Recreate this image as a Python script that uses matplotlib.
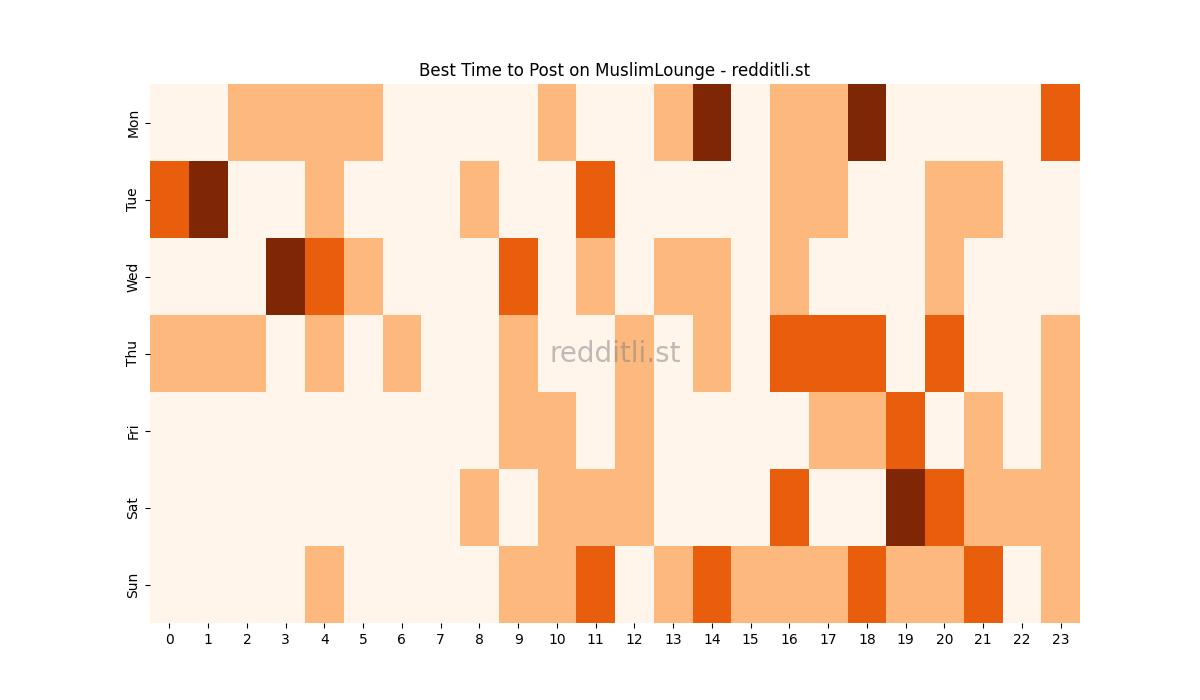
import numpy as np
import matplotlib
matplotlib.use("Agg")
import matplotlib.pyplot as plt
import seaborn as sns

days = ["Mon", "Tue", "Wed", "Thu", "Fri", "Sat", "Sun"]
hours = list(range(24))

# activity level per hour (0-3)
mon = [0, 0, 1, 1, 1, 1, 0, 0, 0, 0, 1, 0, 0, 1, 3, 0, 1, 1, 3, 0, 0, 0, 0, 2]
tue = [2, 3, 0, 0, 1, 0, 0, 0, 1, 0, 0, 2, 0, 0, 0, 0, 1, 1, 0, 0, 1, 1, 0, 0]
wed = [0, 0, 0, 3, 2, 1, 0, 0, 0, 2, 0, 1, 0, 1, 1, 0, 1, 0, 0, 0, 1, 0, 0, 0]
thu = [1, 1, 1, 0, 1, 0, 1, 0, 0, 1, 0, 0, 1, 0, 1, 0, 2, 2, 2, 0, 2, 0, 0, 1]
fri = [0, 0, 0, 0, 0, 0, 0, 0, 0, 1, 1, 0, 1, 0, 0, 0, 0, 1, 1, 2, 0, 1, 0, 1]
sat = [0, 0, 0, 0, 0, 0, 0, 0, 1, 0, 1, 1, 1, 0, 0, 0, 2, 0, 0, 3, 2, 1, 1, 1]
sun = [0, 0, 0, 0, 1, 0, 0, 0, 0, 1, 1, 2, 0, 1, 2, 1, 1, 1, 2, 1, 1, 2, 0, 1]

data = np.array([mon, tue, wed, thu, fri, sat, sun])

fig, ax = plt.subplots(figsize=(12, 7), dpi=100)
sns.heatmap(data, cmap="Oranges", vmin=0, vmax=3, cbar=False,
            xticklabels=hours, yticklabels=days, ax=ax)
ax.set_yticklabels(days, rotation=90, va="center")
ax.set_xticklabels(hours, rotation=0)
ax.set_title("Best Time to Post on MuslimLounge - redditli.st")

# watermark
ax.text(0.5, 0.5, "redditli.st", transform=ax.transAxes, fontsize=20,
        color="gray", alpha=0.5, ha="center", va="center")

plt.savefig("out.png")
